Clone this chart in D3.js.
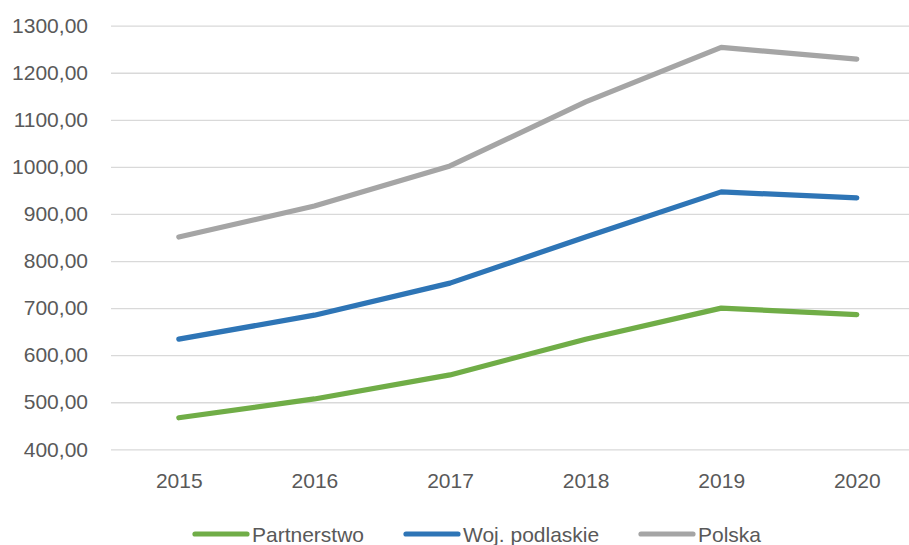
<!DOCTYPE html>
<html><head><meta charset="utf-8">
<script src="https://cdn.jsdelivr.net/npm/d3@7"></script>
<style>body{margin:0;background:#fff}svg{display:block}text{font-family:"Liberation Sans",Arial,sans-serif}</style>
</head><body>
<svg id="c" width="909" height="545"></svg>
<script>
const categories = ["2015","2016","2017","2018","2019","2020"];
const partnerstwo = [467, 507, 558, 634, 700, 686];
const podlaskie = [634, 685, 753, 851, 947, 934];
const polska = [851, 917, 1002, 1138, 1254, 1229];
const yTicks = [400,500,600,700,800,900,1000,1100,1200,1300];
const seriesNames = ["Partnerstwo","Woj. podlaskie","Polska"];
const seriesColors = ["#70ad47","#2e75b6","#a5a5a5"];
const seriesData = [partnerstwo, podlaskie, polska];

const svg = d3.select("#c");
const x = d3.scalePoint().domain(categories).range([111, 924.6]).padding(0.5);
const y = d3.scaleLinear().domain([400,1300]).range([449.3, 25.7]);
const pl = d3.formatLocale({decimal:",", thousands:"", grouping:[3], currency:["",""]});
const fmt = pl.format(".2f");

const gy = svg.append("g").attr("transform","translate(111,0)")
  .call(d3.axisLeft(y).tickValues(yTicks).tickFormat(fmt).tickSize(-820).tickPadding(23));
gy.select(".domain").remove();
gy.selectAll(".tick line").attr("stroke","#d9d9d9").attr("stroke-width",1.3);
gy.selectAll(".tick text").attr("fill","#595959").attr("font-size",21).attr("font-family","Liberation Sans, Arial, sans-serif");

const gx = svg.append("g").attr("transform","translate(0,449.3)")
  .call(d3.axisBottom(x).tickSize(0).tickPadding(24));
gx.select(".domain").remove();
gx.selectAll(".tick text").attr("fill","#595959").attr("font-size",21).attr("font-family","Liberation Sans, Arial, sans-serif");

const line = d3.line().x((d,i)=>x(categories[i])).y(d=>y(d));
seriesData.forEach((s,k)=>{
  svg.append("path").datum(s).attr("d",line).attr("fill","none")
    .attr("stroke",seriesColors[k]).attr("stroke-width",5.2)
    .attr("stroke-linecap","round").attr("stroke-linejoin","round");
});

const legX = [193, 404, 639];
const lg = svg.append("g");
seriesNames.forEach((n,k)=>{
  lg.append("line").attr("x1",legX[k]+2).attr("x2",legX[k]+54).attr("y1",534).attr("y2",534)
    .attr("stroke",seriesColors[k]).attr("stroke-width",5.2).attr("stroke-linecap","round");
  lg.append("text").attr("x",legX[k]+59).attr("y",541.5).text(n)
    .attr("fill","#595959").attr("font-size",21);
});
</script>
</body></html>
